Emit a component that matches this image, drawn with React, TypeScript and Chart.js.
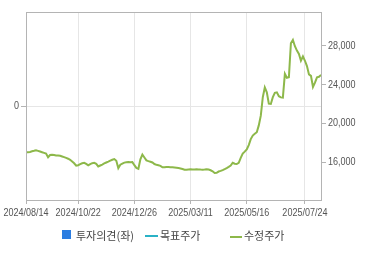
import React, { useEffect, useRef } from "react";
import { Chart, registerables } from "chart.js";

Chart.register(...registerables);

const prices: number[] = [
  17030, 17040, 17070, 17140, 17180, 17230, 17180, 17110, 17040, 16970,
  16900, 16520, 16750, 16780, 16750, 16710, 16700, 16670, 16600, 16530,
  16450, 16370, 16260, 16080, 15900, 15650, 15700, 15810, 15900, 15950,
  15830, 15680, 15810, 15910, 15950, 15840, 15570, 15670, 15770, 15880,
  15980, 16070, 16170, 16260, 16330, 16150, 15400, 15750, 15870, 15970,
  16010, 16030, 16000, 16020, 15700, 15420, 15330, 16300, 16800, 16500,
  16200, 16120, 16060, 15980, 15820, 15740, 15690, 15630, 15480, 15480,
  15520, 15510, 15500, 15490, 15470, 15450, 15410, 15370, 15310, 15230,
  15240, 15270, 15280, 15270, 15260, 15280, 15270, 15250, 15240, 15260,
  15290, 15250, 15180, 15070, 14900, 14920, 15050, 15120, 15200, 15300,
  15410, 15530, 15660, 15950, 15850, 15820, 15950, 16450, 16900, 17100,
  17330, 17770, 18390, 18750, 18930, 19100, 19800, 20800, 22700, 23700,
  23200, 22030, 22000, 22700, 23150, 23200, 22800, 22680, 22650, 25100,
  24700, 24750, 28250, 28600, 27950, 27500, 27150, 26450, 26900, 26450,
  25900, 25050, 24900, 23750, 24200, 24750, 24800, 25000,
];

const tickIndices: number[] = [0, 26, 54, 82, 110, 139];
const tickLabels: string[] = [
  "2024/08/14",
  "2024/10/22",
  "2024/12/26",
  "2025/03/11",
  "2025/05/16",
  "2025/07/24",
];
const rightTicks: number[] = [16000, 20000, 24000, 28000];
const leftTicks: number[] = [0];
const legendLabels: string[] = ["투자의견(좌)", "목표주가", "수정주가"];

const labelFont = '11px "Liberation Sans", Arial, sans-serif';
const squeeze = 0.82;
const textColor = "#555555";
const frameColor = "#b4b4b4";
const gridColor = "#e6e6e6";
const lineColor = "#8db84a";

const framePlugin = {
  id: "frame",
  afterDatasetsDraw(chart: any) {
    const { ctx, chartArea } = chart;
    ctx.save();
    ctx.strokeStyle = frameColor;
    ctx.lineWidth = 1;
    ctx.strokeRect(
      chartArea.left + 0.5,
      chartArea.top + 0.5,
      chartArea.right - chartArea.left,
      chartArea.bottom - chartArea.top
    );
    ctx.restore();
  },
};

// draws the tick labels with a narrow (horizontally squeezed) face, at the scales' own pixels
const narrowLabels = {
  id: "narrowLabels",
  afterDraw(chart: any) {
    const { ctx, chartArea } = chart;
    const xs = chart.scales.x;
    const yl = chart.scales.y;
    const yr = chart.scales.y1;
    const put = (text: string, x: number, y: number, align: string) => {
      ctx.save();
      ctx.translate(x, y);
      ctx.scale(squeeze, 1);
      ctx.font = labelFont;
      ctx.fillStyle = textColor;
      ctx.textAlign = align;
      ctx.textBaseline = "middle";
      ctx.fillText(text, 0, 0);
      ctx.restore();
    };
    tickIndices.forEach((v, i) => {
      put(tickLabels[i], xs.getPixelForValue(v), chartArea.bottom + 13, "center");
    });
    rightTicks.forEach((v) => {
      put(v.toLocaleString("en-US"), chartArea.right + 7, yr.getPixelForValue(v), "left");
    });
    leftTicks.forEach((v) => {
      put(String(v), chartArea.left - 7, yl.getPixelForValue(v), "right");
    });
  },
};

export default function App() {
  const ref = useRef<HTMLCanvasElement | null>(null);

  useEffect(() => {
    if (!ref.current) return;
    const chart = new Chart(ref.current, {
      type: "line",
      data: {
        datasets: [
          {
            label: legendLabels[2],
            data: prices.map((v, i) => ({ x: i, y: v })),
            yAxisID: "y1",
            borderColor: lineColor,
            borderWidth: 2,
            pointRadius: 0,
            tension: 0,
            fill: false,
          },
        ],
      },
      options: {
        animation: false,
        responsive: false,
        maintainAspectRatio: false,
        layout: { padding: { top: 12, left: 0, right: 0, bottom: 0 } },
        plugins: {
          legend: { display: false },
          tooltip: { enabled: false },
        },
        scales: {
          x: {
            type: "linear",
            min: 0,
            max: prices.length - 1,
            afterBuildTicks: (s: any) => {
              s.ticks = tickIndices.map((v) => ({ value: v }));
            },
            afterFit: (s: any) => {
              s.height = 55;
              s.paddingLeft = 0;
              s.paddingRight = 0;
            },
            ticks: { display: false },
            grid: {
              color: gridColor,
              tickColor: frameColor,
              tickLength: 4,
            },
            border: { display: false },
          },
          y: {
            position: "left",
            min: -1,
            max: 1,
            afterBuildTicks: (s: any) => {
              s.ticks = leftTicks.map((v) => ({ value: v }));
            },
            afterFit: (s: any) => {
              s.width = 26;
            },
            ticks: { display: false },
            grid: {
              color: gridColor,
              tickColor: frameColor,
              tickLength: 5,
            },
            border: { display: false },
          },
          y1: {
            position: "right",
            min: 12120,
            max: 31470,
            afterBuildTicks: (s: any) => {
              s.ticks = rightTicks.map((v) => ({ value: v }));
            },
            afterFit: (s: any) => {
              s.width = 49;
            },
            ticks: { display: false },
            grid: {
              drawOnChartArea: false,
              tickColor: frameColor,
              tickLength: 5,
            },
            border: { display: false },
          },
        },
      },
      plugins: [framePlugin, narrowLabels],
    } as any);
    return () => chart.destroy();
  }, []);

  const legendFont: React.CSSProperties = {
    position: "absolute",
    top: 228,
    height: 14,
    lineHeight: "14px",
    fontSize: 11,
    fontFamily: '"Noto Sans CJK KR", sans-serif',
    color: "#444444",
    whiteSpace: "nowrap",
  };

  return (
    <div style={{ position: "absolute", left: 0, top: 0, width: 370, height: 255, background: "#fff" }}>
      <canvas ref={ref} width={370} height={255} style={{ position: "absolute", left: 0, top: 0, width: 370, height: 255 }} />
      <div style={{ position: "absolute", left: 62, top: 230, width: 9, height: 9, background: "#2b7de1" }} />
      <div style={{ ...legendFont, left: 76 }}>{legendLabels[0]}</div>
      <div style={{ position: "absolute", left: 145, top: 235, width: 13, height: 2, background: "#2ab2c6" }} />
      <div style={{ ...legendFont, left: 160 }}>{legendLabels[1]}</div>
      <div style={{ position: "absolute", left: 230, top: 236, width: 12, height: 2, background: lineColor }} />
      <div style={{ ...legendFont, left: 244 }}>{legendLabels[2]}</div>
    </div>
  );
}
